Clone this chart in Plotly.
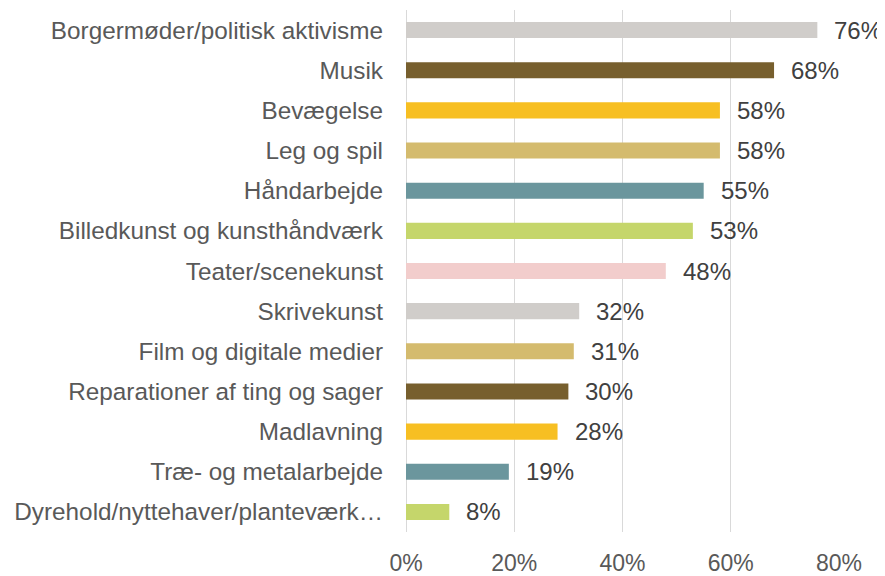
import plotly.graph_objects as go

categories = [
    "Borgermøder/politisk aktivisme",
    "Musik",
    "Bevægelse",
    "Leg og spil",
    "Håndarbejde",
    "Billedkunst og kunsthåndværk",
    "Teater/scenekunst",
    "Skrivekunst",
    "Film og digitale medier",
    "Reparationer af ting og sager",
    "Madlavning",
    "Træ- og metalarbejde",
    "Dyrehold/nyttehaver/planteværk…",
]
values = [0.76, 0.68, 0.58, 0.58, 0.55, 0.53, 0.48, 0.32, 0.31, 0.30, 0.28, 0.19, 0.08]
colors = ["#D0CDCA", "#775F2E", "#F7BF22", "#D4BB6E", "#6B969D", "#C5D66B", "#F2CDCC",
          "#D0CDCA", "#D4BB6E", "#775F2E", "#F7BF22", "#6B969D", "#C5D66B"]
tick_vals = [0, 0.2, 0.4, 0.6, 0.8]
tick_text = ["0%", "20%", "40%", "60%", "80%"]

font_family = "Liberation Sans, Arial, sans-serif"

fig = go.Figure(go.Bar(
    x=values, y=categories, orientation="h",
    marker=dict(color=colors, line=dict(width=0)),
    hoverinfo="skip",
))

for v, c in zip(values, categories):
    fig.add_annotation(x=v, y=c, text=f"{round(v*100)}%", showarrow=False,
                       xanchor="left", xshift=15,
                       font=dict(family=font_family, size=24, color="#404040"))

fig.update_layout(
    width=877, height=568,
    margin=dict(l=398, r=46, t=2, b=44),
    paper_bgcolor="white", plot_bgcolor="white",
    bargap=0.6, showlegend=False,
    font=dict(family=font_family),
)
fig.update_xaxes(range=[0, 0.8], tickvals=tick_vals, ticktext=tick_text,
                 automargin=False,
                 showgrid=True, gridcolor="#D9D9D9", gridwidth=1,
                 zeroline=True, zerolinecolor="#D9D9D9", zerolinewidth=1,
                 showline=False, ticks="", ticklabelstandoff=15,
                 tickfont=dict(family=font_family, size=23, color="#595959"))
fig.update_yaxes(autorange="reversed", automargin=False,
                 showgrid=False, showline=False, ticks="",
                 ticklabelstandoff=22,
                 tickfont=dict(family=font_family, size=24.3, color="#595959"))

fig.write_html("out.html")
